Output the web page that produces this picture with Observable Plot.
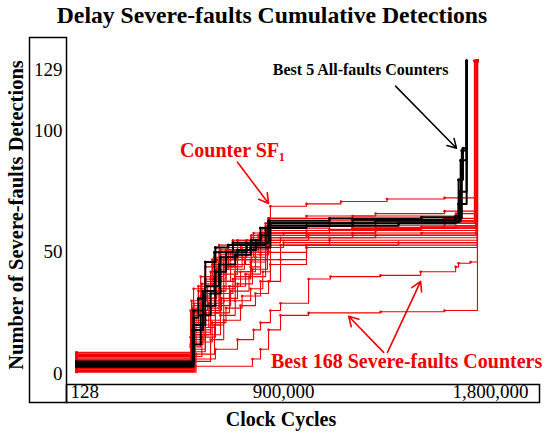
<!DOCTYPE html>
<html><head><meta charset="utf-8">
<script src="https://cdn.jsdelivr.net/npm/d3@7"></script>
<script src="https://cdn.jsdelivr.net/npm/@observablehq/plot@0.6"></script>
<style>body{margin:0;background:#fff} svg{display:block}</style>
</head><body><div id="chart"></div>
<script>
// x in thousands of clock cycles, y = cumulative severe-fault detections
const redSeries = [
  [[0.128,7],[509,18],[540,28],[600,40],[640,47],[720,52],[800,56],[835,63],[843,69],[1000,70],[1150,71],[1350,72],[1600,72.5],[1743,129]],
  [[0.128,4],[505,14],[560,30],[626,47],[700,51],[780,55],[835,64],[1000,65],[1300,66],[1600,67],[1743,129]],
  [[0.128,8.5],[496,12],[520,26],[570,36],[620,50],[680,53],[760,57],[822,61],[1100,62],[1500,63],[1743,129]],
  [[0.128,2],[509,22],[550,31],[610,43],[660,48],[740,55],[800,58],[1000,59],[1400,60],[1650,61],[1743,129]],
  [[0.128,6],[500,20],[530,34],[583,42],[626,49],[757,52],[822,57],[900,58],[1300,59],[1743,129]],
  [[0.128,1],[515,10],[560,22],[626,38],[690,45],[760,50],[835,58],[1100,59.5],[1500,60.5],[1743,129]],
  [[0.128,3],[509,25],[545,33],[600,46],[670,50],[735,54],[810,60],[1000,61],[1400,62],[1743,129]],
  [[0.128,5],[509,17],[583,27],[620,41],[700,47],[778,51],[830,56],[1000,57],[1743,129]],
  [[0.128,7.5],[496,15],[540,24],[604,34],[650,44],[720,49],[800,53],[843,59],[1200,60],[1600,61],[1743,129]],
  [[0.128,0.5],[520,8],[600,20],[640,30],[690,40],[757,46],[822,55],[1009,57],[1500,58],[1743,129]],
  [[0.128,3.5],[509,28],[560,38],[626,51],[700,54],[800,58],[843,62],[1200,63],[1743,129]],
  [[0.128,6.5],[505,19],[575,29],[640,36],[713,42],[778,48],[822,54],[887,56],[1300,57],[1743,129]],
  [[0.128,2.5],[509,12],[550,20],[626,33],[680,39],[757,44],[800,50],[843,55],[1100,56],[1743,129]],
  [[0.128,8],[500,30],[540,40],[590,47],[660,52],[760,56],[835,60],[1100,61],[1600,62.5],[1743,129]],
  [[0.128,1.5],[515,18],[583,26],[630,31],[700,37],[765,43],[830,52],[900,54],[1743,129]],
  [[0.128,4.5],[509,35],[560,44],[620,53],[700,55],[822,59],[1300,60],[1743,129]],
  [[0.128,5.5],[509,9],[560,16],[626,24],[690,30],[757,35],[810,42],[843,50],[1000,52],[1743,129]],
  [[0.128,3],[496,11],[540,19],[604,28],[670,34],[750,40],[822,47],[887,53],[1400,54],[1743,129]],
  [[0.128,2],[509,6],[604,10],[700,14],[770,18],[800,21],[843,26],[887,29],[1009,39],[1104,40],[1322,40.5],[1496,42],[1648,44],[1661,45.5],[1713,46],[1743,129]],
  [[0.128,1],[509,3],[765,6],[800,10],[835,18],[887,24],[1009,25],[1322,25.5],[1600,26],[1743,129]],
  [[0.128,7],[509,21],[560,31],[604,38],[670,45],[735,50],[790,53],[835,57],[1200,58],[1743,129]],
  [[0.128,0.8],[509,5],[583,14],[640,22],[713,28],[778,33],[835,38],[887,47],[1000,53],[1743,129]],
  [[0.128,6],[505,27],[545,37],[600,48],[680,55],[770,58],[835,64],[1200,65],[1650,66],[1743,129]],
  [[0.128,4],[509,13],[590,21],[650,27],[720,32],[800,38],[843,45],[1000,52],[1743,129]],
  [[0.128,8.8],[500,24],[540,32],[583,39],[650,43],[730,47],[800,52],[843,58],[1300,59],[1743,129]],
  [[0.128,2.2],[509,16],[560,25],[620,35],[690,42],[760,47],[822,53],[1100,55],[1743,129]],
  [[0.128,5],[496,26],[530,36],[590,45],[650,51],[713,53],[790,57],[835,61],[1300,62],[1730,129]],
  [[0.128,1.2],[509,7],[545,15],[604,25],[665,36],[735,41],[800,49],[835,56],[1200,57],[1736,129]],
  [[0.128,7.8],[505,16],[583,34],[640,44],[700,48],[770,53],[822,62],[1100,63],[1600,64],[1730,129]],
  [[0.128,3.8],[509,29],[560,39],[610,47],[680,51],[757,54],[830,59],[1200,60],[1736,129]]
];
const blackSeries = [
  [[0.128,5],[509,23],[530,31],[560,46],[604,52],[660,53],[760,55],[800,60],[835,63],[1100,64],[1500,64.5],[1648,65],[1661,80],[1680,93],[1696,129]],
  [[0.128,3.5],[509,12],[540,24],[583,33],[626,48],[700,51],[780,54],[835,61],[1200,62],[1648,63],[1670,88],[1696,129]],
  [[0.128,4],[505,18],[550,28],[604,42],[650,50],[740,53],[822,60],[1000,61],[1400,62],[1648,62.5],[1665,75],[1696,129]],
  [[0.128,2.8],[509,20],[560,36],[620,45],[690,49],[757,52],[843,62],[1300,63],[1648,64],[1661,70],[1696,129]],
  [[0.128,4.5],[509,26],[550,34],[600,50],[680,54],[800,57],[835,62],[1200,63.5],[1648,64],[1675,92],[1696,129]]
];
const yTicks = [0, 50, 100];
const yTopTick = [129];
const xTicks = [900, 1800];
const xTickLabels = ["900,000", "1,800,000"];
const xFirstTick = [0.128];
const xFirstLabel = ["128"];

const toRows = (list, g) => list.flatMap((s, i) => s.map(([x, y]) => ({x, y, id: g + i})));
const redRows = toRows(redSeries, "r");
const blackRows = toRows(blackSeries, "b");
const RED = "#f00000";
const serif = "'Liberation Serif', 'Times New Roman', serif";

const plot = Plot.plot({
  width: 550, height: 433,
  marginLeft: 67, marginRight: 10, marginTop: 58, marginBottom: 60,
  style: {fontFamily: serif, fontSize: "19px", color: "#000", background: "#fff"},
  x: {domain: [-39, 2017]},
  y: {domain: [0, 130]},
  marks: [
    Plot.axisY({ticks: yTicks, tickSize: 0, tickPadding: 5, tickFormat: d => String(d), fontSize: 19}),
    Plot.axisY({ticks: yTopTick, tickSize: 0, tickPadding: 5, dy: 9, tickFormat: d => String(d), fontSize: 19}),
    Plot.axisX({ticks: xTicks, tickSize: 0, tickPadding: 11, tickFormat: d => xTickLabels[xTicks.indexOf(d)], fontSize: 19}),
    Plot.axisX({ticks: xFirstTick, tickSize: 0, tickPadding: 11, textAnchor: "start", dx: -6, tickFormat: d => xFirstLabel[0], fontSize: 19}),
    Plot.line(redRows, {x: "x", y: "y", z: "id", curve: "step-after", stroke: RED, strokeWidth: 1.1}),
    Plot.dot(redRows, {x: "x", y: "y", r: 1.3, fill: RED, stroke: "none"}),
    Plot.line(blackRows, {x: "x", y: "y", z: "id", curve: "step-after", stroke: "#000", strokeWidth: 2}),
    Plot.dot(blackRows, {x: "x", y: "y", r: 1.5, fill: "#000", stroke: "none"}),
    Plot.arrow([{x1: 1387, y1: 118.6, x2: 1652, y2: 93}], {x1: "x1", y1: "y1", x2: "x2", y2: "y2", stroke: "#000", strokeWidth: 1.5, headLength: 10}),
    Plot.arrow([{x1: 700, y1: 87.2, x2: 835, y2: 70.2}], {x1: "x1", y1: "y1", x2: "x2", y2: "y2", stroke: RED, strokeWidth: 1.6, headLength: 10}),
    Plot.arrow([{x1: 1335, y1: 8.7, x2: 1183, y2: 23.6}, {x1: 1352, y1: 8.7, x2: 1496, y2: 38}], {x1: "x1", y1: "y1", x2: "x2", y2: "y2", stroke: RED, strokeWidth: 1.6, headLength: 10}),
    Plot.text(["Best 5 All-faults Counters"], {x: 1235, y: 125.2, text: d => d, fill: "#000", fontWeight: "bold", fontSize: 16}),
    Plot.text(["Counter SF\u2081"], {x: 678, y: 92.1, text: d => d, fill: RED, fontWeight: "bold", fontSize: 20}),
    Plot.text(["Best 168 Severe-faults Counters"], {x: 1435, y: 5, text: d => d, fill: RED, fontWeight: "bold", fontSize: 20})
  ]
});

const svg = d3.select(plot);
const g = svg.append("g").attr("fill", "none").attr("stroke", "#000").attr("stroke-width", 1.5);
g.append("rect").attr("x", 29.5).attr("y", 37.5).attr("width", 37).attr("height", 365);
g.append("rect").attr("x", 66.5).attr("y", 384.5).attr("width", 473).attr("height", 18);
svg.append("text").attr("x", 272).attr("y", 23).attr("text-anchor", "middle")
  .attr("font-family", serif).attr("font-weight", "bold").attr("font-size", 23.7).attr("fill", "#000")
  .text("Delay Severe-faults Cumulative Detections");
svg.append("text").attr("x", 281).attr("y", 426).attr("text-anchor", "middle")
  .attr("font-family", serif).attr("font-weight", "bold").attr("font-size", 20).attr("fill", "#000")
  .text("Clock Cycles");
svg.append("text").attr("transform", "translate(23,215) rotate(-90)").attr("text-anchor", "middle")
  .attr("font-family", serif).attr("font-weight", "bold").attr("font-size", 20.5).attr("fill", "#000")
  .text("Number of Severe-faults Detections");
document.getElementById("chart").appendChild(plot);
</script></body></html>
